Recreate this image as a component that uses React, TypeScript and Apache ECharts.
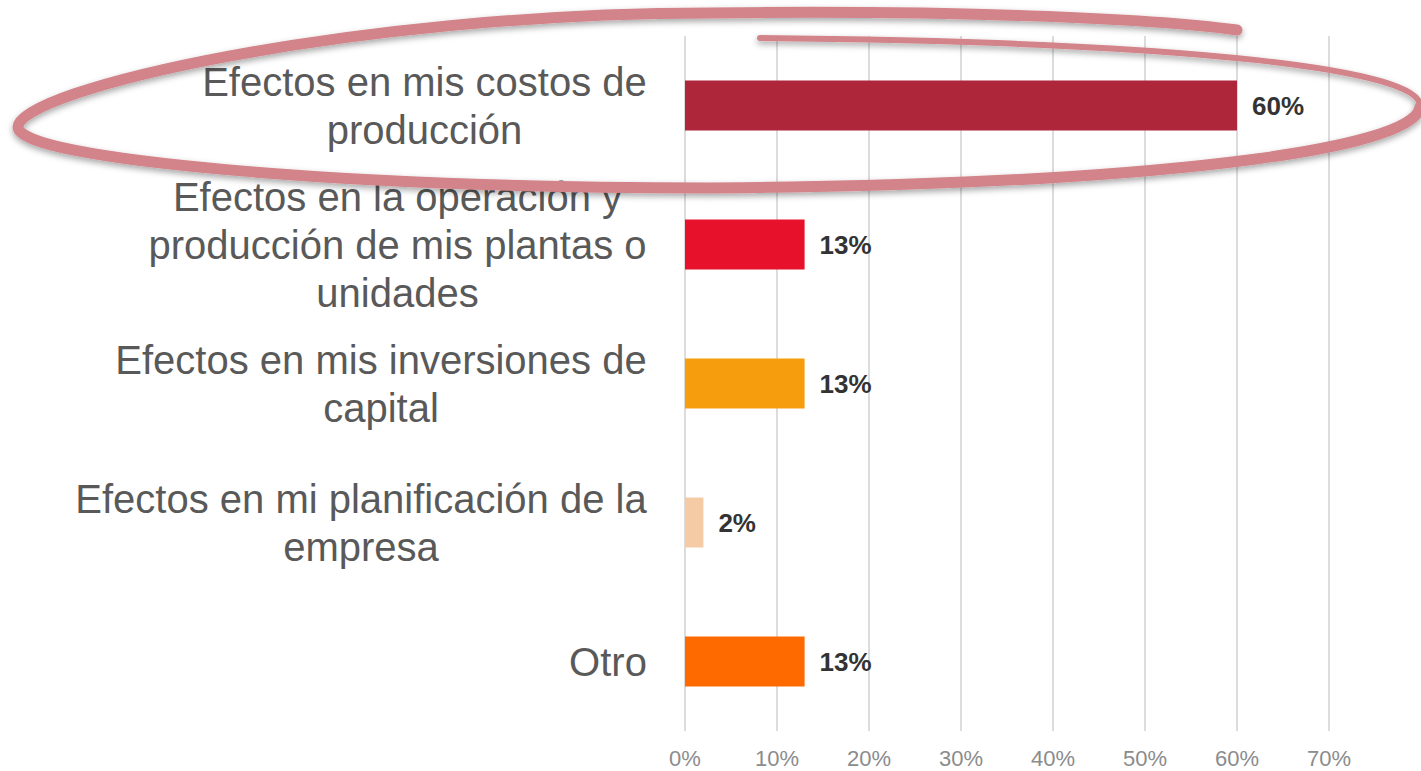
import React, { useEffect, useRef } from "react";
import * as echarts from "echarts";

const categories = [
  "Efectos en mis costos de\nproducción",
  "Efectos en la operación y\nproducción de mis plantas o\nunidades",
  "Efectos en mis inversiones de\ncapital",
  "Efectos en mi planificación de la\nempresa",
  "Otro",
];
const values = [60, 13, 13, 2, 13];
const barColors = ["#AE263A", "#E8112B", "#F59D0C", "#F5CBA5", "#FF6A00"];
const xTicks = [0, 10, 20, 30, 40, 50, 60, 70];

const thinStroke = "M 760 38 C 1200 42 1425 70 1420 107";
const thickStroke =
  "M 1420 107 C 1415 150 1150 185 710 188 C 350 188 18 160 18 127 C 18 90 350 13 710 13 C 950 10 1150 18 1237 30";

echarts.graphic.registerShape("circleThin", echarts.graphic.extendPath(thinStroke, {}));
echarts.graphic.registerShape("circleThick", echarts.graphic.extendPath(thickStroke, {}));

const LABEL_FONT = "Liberation Sans, Arial, sans-serif";
const LABEL_SIZE = 40;

function measure(text: string): number {
  const c = document.createElement("canvas");
  const ctx = c.getContext("2d");
  if (!ctx) return text.length * LABEL_SIZE * 0.5;
  ctx.font = `${LABEL_SIZE}px ${LABEL_FONT}`;
  return ctx.measureText(text).width;
}

export default function App() {
  const ref = useRef<HTMLDivElement>(null);
  useEffect(() => {
    if (!ref.current) return;
    const chart = echarts.init(ref.current, null, { renderer: "svg" });
    const rich: Record<string, any> = {};
    categories.forEach((c, i) => {
      const w = Math.max(...c.split("\n").map(measure));
      rich["r" + i] = {
        width: Math.ceil(w) + 2,
        align: "center",
        fontSize: LABEL_SIZE,
        lineHeight: 48,
        color: "#595959",
        fontFamily: LABEL_FONT,
      };
    });
    const strokeStyle = {
      fill: "none",
      stroke: "#D3848A",
      lineCap: "round",
      shadowBlur: 6,
      shadowColor: "rgba(0,0,0,0.35)",
      shadowOffsetY: 3,
    };
    chart.setOption({
      animation: false,
      backgroundColor: "#ffffff",
      textStyle: { fontFamily: LABEL_FONT },
      grid: { left: 685, right: 92, top: 36, bottom: 40, containLabel: false },
      xAxis: {
        type: "value",
        min: xTicks[0],
        max: xTicks[xTicks.length - 1],
        interval: 10,
        axisLine: { show: false },
        axisTick: { show: false },
        splitLine: { show: true, lineStyle: { color: "#d0d0d0", width: 1.5 } },
        axisLabel: {
          formatter: "{value}%",
          fontSize: 22,
          color: "#8c8c8c",
          margin: 16,
        },
      },
      yAxis: {
        type: "category",
        inverse: true,
        data: categories,
        axisLine: { show: false },
        axisTick: { show: false },
        axisLabel: {
          fontSize: LABEL_SIZE,
          lineHeight: 48,
          color: "#595959",
          margin: 37,
          align: "right",
          formatter: (value: string, idx: number) =>
            value
              .split("\n")
              .map((l) => `{r${idx}|${l}}`)
              .join("\n"),
          rich,
        },
      },
      series: [
        {
          type: "bar",
          barWidth: 50,
          data: values.map((v, i) => ({ value: v, itemStyle: { color: barColors[i] } })),
          label: {
            show: true,
            position: "right",
            distance: 15,
            formatter: "{c}%",
            fontSize: 26,
            fontWeight: "bold",
            color: "#333333",
          },
        },
      ],
      graphic: [
        {
          type: "circleThin",
          x: 0,
          y: 0,
          z: 100,
          style: { ...strokeStyle, lineWidth: 6 },
        },
        {
          type: "circleThick",
          x: 0,
          y: 0,
          z: 100,
          style: { ...strokeStyle, lineWidth: 11 },
        },
      ],
    });
    return () => chart.dispose();
  }, []);
  return (
    <div
      ref={ref}
      style={{ position: "fixed", left: 0, top: 0, width: 1421, height: 771 }}
    />
  );
}
